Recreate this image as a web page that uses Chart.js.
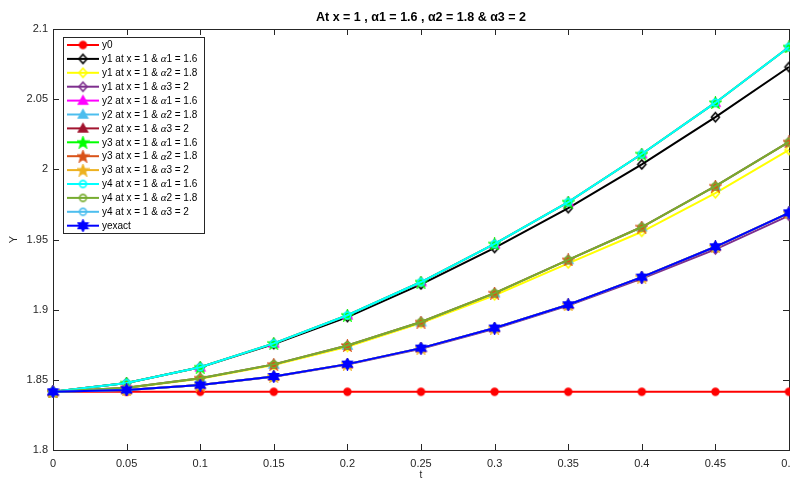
<!DOCTYPE html>
<html>
<head>
<meta charset="utf-8">
<script src="https://cdn.jsdelivr.net/npm/chart.js@4.4.1/dist/chart.umd.min.js"></script>
<style>
    html, body { margin: 0; padding: 0; background: #fff; overflow: hidden; }
    #wrap { width: 790px; height: 481px; overflow: hidden; }
</style>
</head>
<body>
<div id="wrap"><canvas id="chart" width="812" height="481"></canvas></div>
<script>
const tValues = [0, 0.05, 0.1, 0.15, 0.2, 0.25, 0.3, 0.35, 0.4, 0.45, 0.5];
const yTicks = [1.8, 1.85, 1.9, 1.95, 2, 2.05, 2.1];

const y0 = [1.8415, 1.8415, 1.8415, 1.8415, 1.8415, 1.8415, 1.8415, 1.8415, 1.8415, 1.8415, 1.8415];
const y1Alpha1 = [1.8415, 1.8477, 1.8590, 1.8755, 1.8948, 1.9180, 1.9440, 1.9724, 2.0035, 2.0372, 2.0729];
const yAlpha1 = [1.8415, 1.8477, 1.8590, 1.8760, 1.8960, 1.9197, 1.9468, 1.9767, 2.0109, 2.0475, 2.0872];
const y1Alpha2 = [1.8415, 1.8441, 1.8508, 1.8605, 1.8735, 1.8905, 1.9103, 1.9330, 1.9555, 1.9830, 2.0138];
const yAlpha2 = [1.8415, 1.8443, 1.8512, 1.8610, 1.8745, 1.8912, 1.9118, 1.9355, 1.9589, 1.9880, 2.0195];
const y1Alpha3 = [1.8415, 1.8428, 1.8463, 1.8522, 1.8610, 1.8722, 1.8864, 1.9030, 1.9222, 1.9430, 1.9670];
const yAlpha3 = [1.8415, 1.8428, 1.8463, 1.8524, 1.8612, 1.8726, 1.8869, 1.9035, 1.9232, 1.9448, 1.9690];
const yExact = [1.8415, 1.8428, 1.8463, 1.8524, 1.8612, 1.8726, 1.8869, 1.9035, 1.9232, 1.9448, 1.9690];

const titleText = 'At x = 1 , α1 = 1.6 , α2 = 1.8 & α3 = 2';

// label, values, colour, marker, filled
const series = [
    ['y0', y0, '#ff0000', 'circle', true],
    ['y1 at x = 1 & α1 = 1.6', y1Alpha1, '#000000', 'diamond', false],
    ['y1 at x = 1 & α2 = 1.8', y1Alpha2, '#ffff00', 'diamond', false],
    ['y1 at x = 1 & α3 = 2', y1Alpha3, '#7e2f8e', 'diamond', false],
    ['y2 at x = 1 & α1 = 1.6', yAlpha1, '#ff00ff', 'triangle', true],
    ['y2 at x = 1 & α2 = 1.8', yAlpha2, '#4dbeee', 'triangle', true],
    ['y2 at x = 1 & α3 = 2', yAlpha3, '#a2142f', 'triangle', true],
    ['y3 at x = 1 & α1 = 1.6', yAlpha1, '#00ff00', 'star', true],
    ['y3 at x = 1 & α2 = 1.8', yAlpha2, '#d95319', 'star', true],
    ['y3 at x = 1 & α3 = 2', yAlpha3, '#edb120', 'star', true],
    ['y4 at x = 1 & α1 = 1.6', yAlpha1, '#00ffff', 'circle', false],
    ['y4 at x = 1 & α2 = 1.8', yAlpha2, '#77ac30', 'circle', false],
    ['y4 at x = 1 & α3 = 2', yAlpha3, '#4dbeee', 'circle', false],
    ['yexact', yExact, '#0000ff', 'hexagram', true],
];

const sans = '"Liberation Sans", Arial, Helvetica, sans-serif';
const axisColor = '#262626';

const starPath = (ctx, cx, cy, n, outer, inner) => {
    ctx.beginPath();
    for (let i = 0; i < n * 2; i++) {
        const r = i % 2 === 0 ? outer : inner;
        const a = -Math.PI / 2 + i * Math.PI / n;
        const px = cx + r * Math.cos(a);
        const py = cy + r * Math.sin(a);
        if (i === 0) ctx.moveTo(px, py); else ctx.lineTo(px, py);
    }
    ctx.closePath();
}

const makeMarker = (shape, color, filled) => {
    const c = document.createElement('canvas');
    c.width = 13;
    c.height = 13;
    const ctx = c.getContext('2d');
    const m = 6.5;
    ctx.strokeStyle = color;
    ctx.fillStyle = color;
    ctx.lineWidth = 1.6;
    ctx.lineJoin = 'miter';
    if (shape === 'circle') {
        ctx.beginPath();
        ctx.arc(m, m, 3.4, 0, Math.PI * 2);
    } else if (shape === 'diamond') {
        ctx.beginPath();
        ctx.moveTo(m, m - 4.6);
        ctx.lineTo(m + 4, m);
        ctx.lineTo(m, m + 4.6);
        ctx.lineTo(m - 4, m);
        ctx.closePath();
    } else if (shape === 'triangle') {
        ctx.beginPath();
        ctx.moveTo(m, m - 4.5);
        ctx.lineTo(m + 4.5, m + 3.5);
        ctx.lineTo(m - 4.5, m + 3.5);
        ctx.closePath();
    } else if (shape === 'star') {
        starPath(ctx, m, m + 0.5, 5, 5.6, 2.3);
    } else {
        starPath(ctx, m, m, 6, 5.4, 3);
    }
    if (filled) ctx.fill();
    ctx.stroke();
    return c;
}

const markers = series.map(s => makeMarker(s[3], s[2], s[4]));

const formatTick = v => String(parseFloat(Number(v).toFixed(2)));

const drawRich = (ctx, text, x, y) => {
    const parts = text.split('α');
    let cx = x;
    parts.forEach((p, i) => {
        if (i > 0) {
            ctx.font = 'italic 11px "Liberation Serif", "Times New Roman", serif';
            ctx.fillText('α', cx, y);
            cx += ctx.measureText('α').width;
        }
        ctx.font = '10px ' + sans;
        ctx.fillText(p, cx, y);
        cx += ctx.measureText(p).width;
    });
}

const framePlugin = {
    id: 'frame',
    beforeDatasetsDraw(chart) {
        const { ctx, chartArea } = chart;
        const { left, right, top, bottom } = chartArea;
        const xs = chart.scales.x;
        const ys = chart.scales.y;
        ctx.save();
        ctx.strokeStyle = axisColor;
        ctx.lineWidth = 1;
        ctx.strokeRect(Math.round(left) + 0.5, Math.round(top) + 0.5, Math.round(right - left), Math.round(bottom - top));
        ctx.beginPath();
        tValues.forEach(v => {
            const px = Math.round(xs.getPixelForValue(v)) + 0.5;
            ctx.moveTo(px, bottom); ctx.lineTo(px, bottom - 6);
            ctx.moveTo(px, top); ctx.lineTo(px, top + 6);
        });
        yTicks.forEach(v => {
            const py = Math.round(ys.getPixelForValue(v)) + 0.5;
            ctx.moveTo(left, py); ctx.lineTo(left + 6, py);
            ctx.moveTo(right, py); ctx.lineTo(right - 6, py);
        });
        ctx.stroke();
        ctx.restore();
    }
};

const legendPlugin = {
    id: 'boxLegend',
    afterDraw(chart) {
        const { ctx } = chart;
        const bx = 63, by = 37, bw = 141, bh = 196;
        const rowH = 13.9;
        ctx.save();
        ctx.fillStyle = '#ffffff';
        ctx.fillRect(bx, by, bw, bh);
        ctx.strokeStyle = '#262626';
        ctx.lineWidth = 1;
        ctx.strokeRect(bx + 0.5, by + 0.5, bw, bh);
        series.forEach((s, i) => {
            const cy = by + 8 + i * rowH;
            ctx.strokeStyle = s[2];
            ctx.lineWidth = 2;
            ctx.beginPath();
            ctx.moveTo(67, cy);
            ctx.lineTo(99, cy);
            ctx.stroke();
            const mk = markers[i];
            ctx.drawImage(mk, 83 - mk.width / 2, cy - mk.height / 2);
            ctx.fillStyle = '#000000';
            ctx.textBaseline = 'middle';
            ctx.textAlign = 'left';
            drawRich(ctx, s[0], 102, cy + 0.5);
        });
        ctx.restore();
    }
};

const datasets = series.map((s, i) => ({
    label: s[0],
    data: tValues.map((t, k) => ({ x: t, y: s[1][k] })),
    borderColor: s[2],
    backgroundColor: s[2],
    borderWidth: 2,
    pointStyle: markers[i],
    pointRadius: 4,
    pointHoverRadius: 4,
    tension: 0,
    clip: false,
    order: series.length - i,
}));

new Chart(document.getElementById('chart'), {
    type: 'line',
    data: { datasets },
    options: {
        responsive: false,
        animation: false,
        layout: { padding: { left: 0, right: 23, top: 0, bottom: 0 } },
        plugins: {
            legend: { display: false },
            tooltip: { enabled: false },
            title: {
                display: true,
                text: titleText,
                color: '#000000',
                fullSize: false,
                font: { family: sans, size: 12.5, weight: 'bold' },
                padding: { top: 10, bottom: 4 },
            },
        },
        scales: {
            x: {
                type: 'linear',
                min: 0,
                max: 0.5,
                grid: { display: false, drawTicks: false },
                border: { display: false },
                afterBuildTicks: scale => { scale.ticks = tValues.map(v => ({ value: v })); },
                afterFit: scale => { scale.height = 31; },
                ticks: {
                    color: axisColor,
                    font: { family: sans, size: 11 },
                    padding: 7,
                    maxRotation: 0,
                    autoSkip: false,
                    callback: formatTick,
                },
                title: {
                    display: true,
                    text: 't',
                    color: axisColor,
                    font: { family: sans, size: 10 },
                    padding: 0,
                },
            },
            y: {
                type: 'linear',
                min: 1.8,
                max: 2.1,
                grid: { display: false, drawTicks: false },
                border: { display: false },
                afterBuildTicks: scale => { scale.ticks = yTicks.map(v => ({ value: v })); },
                afterFit: scale => { scale.width = 53; },
                ticks: {
                    color: axisColor,
                    font: { family: sans, size: 11 },
                    padding: 5,
                    autoSkip: false,
                    callback: formatTick,
                },
                title: {
                    display: true,
                    text: 'Y',
                    color: axisColor,
                    font: { family: sans, size: 11 },
                    padding: { top: 7, bottom: 0 },
                },
            },
        },
    },
    plugins: [framePlugin, legendPlugin],
});
</script>
</body>
</html>
